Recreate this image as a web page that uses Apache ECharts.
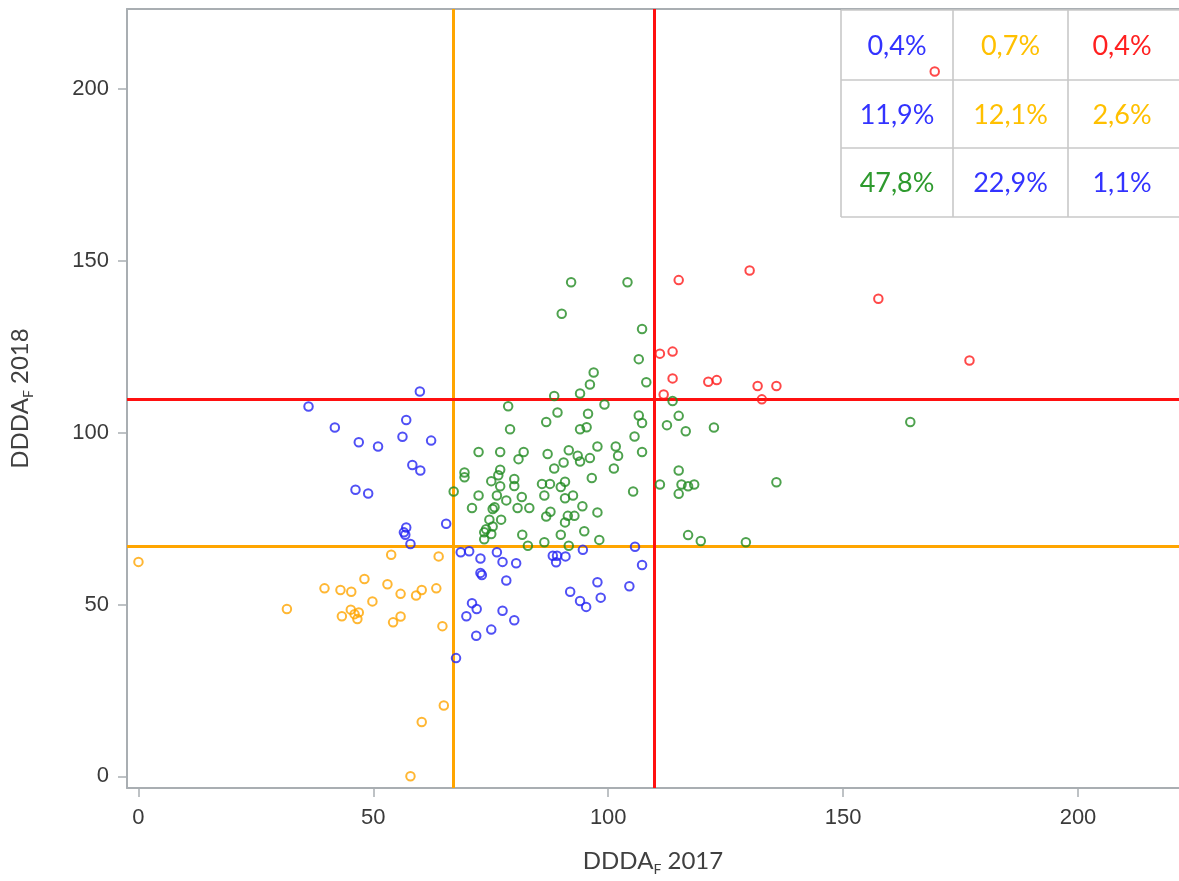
<!DOCTYPE html>
<html>
<head>
<meta charset="utf-8">
<script src="https://cdn.jsdelivr.net/npm/echarts@6/dist/echarts.min.js"></script>
<style>
html,body{margin:0;padding:0;background:#fff;}
#chart{width:1179px;height:881px;}
</style>
</head>
<body>
<div id="chart"></div>
<script>
// ---- data ----
const xTicks = [0, 50, 100, 150, 200];
const yTicks = [0, 50, 100, 150, 200];
const xThresholds = [67, 109.7];
const yThresholds = [67, 109.7];

const greenPoints = [
  [92.1,143.8],[104.1,143.8],[90.1,134.6],[107.2,130.2],[106.5,121.4],[108.1,114.7],
  [96.9,117.5],[96.1,114.0],[94.0,111.4],[88.5,110.7],[99.2,108.2],[78.7,107.7],
  [89.2,105.9],[95.7,105.5],[106.5,105.0],[107.2,102.8],[86.8,103.1],[94.0,101.0],
  [95.4,101.6],[79.1,101.0],[105.6,98.9],[97.7,96.0],[101.6,96.0],[102.1,93.3],
  [91.6,94.9],[107.2,94.4],[72.4,94.4],[77.0,94.4],[82.0,94.4],[80.9,92.3],
  [87.1,93.8],[93.5,93.3],[94.0,91.6],[96.1,92.6],[90.5,91.3],[88.5,89.6],
  [101.2,89.6],[96.5,86.8],[69.4,88.4],[69.4,87.0],[77.0,89.2],[76.6,87.6],
  [75.1,85.9],[77.0,84.4],[80.0,86.5],[80.0,84.5],[85.9,85.1],[87.6,85.1],
  [89.9,84.2],[90.8,85.7],[105.3,82.9],[67.1,82.9],[72.4,81.7],[76.3,81.7],
  [78.3,80.3],[81.6,81.3],[86.4,81.7],[90.8,80.9],[92.5,81.7],[71.0,78.1],
  [75.8,78.3],[75.4,77.8],[80.7,78.1],[83.2,78.1],[87.7,77.0],[86.8,75.6],
  [94.5,78.6],[97.7,76.8],[91.4,75.8],[90.8,73.9],[92.8,75.8],[74.7,74.7],
  [77.2,74.7],[75.4,72.7],[74.0,71.9],[73.6,71.0],[75.1,70.5],[73.6,69.0],
  [81.7,70.3],[89.9,70.3],[94.9,71.3],[98.1,68.8],[82.9,67.1],[86.4,68.1],
  [91.6,67.1],[113.7,109.2],[115.0,104.9],[112.5,102.2],[116.5,100.4],[122.5,101.5],
  [164.3,103.1],[115.0,89.0],[111.0,84.9],[115.6,84.9],[117.0,84.4],[118.3,84.9],
  [115.0,82.2],[135.8,85.6],[117.0,70.2],[119.7,68.5],[129.3,68.1]
];

const bluePoints = [
  [59.9,112.0],[36.2,107.6],[57.0,103.7],[41.8,101.5],[56.2,98.8],[62.3,97.7],
  [46.9,97.2],[51.0,96.0],[58.3,90.6],[60.0,89.0],[46.2,83.4],[48.9,82.3],
  [65.5,73.5],[57.0,72.4],[56.5,71.0],[56.8,70.3],[57.9,67.6],[68.6,65.2],
  [70.4,65.5],[72.8,63.4],[76.3,65.2],[77.5,62.4],[80.4,62.0],[88.2,64.2],
  [89.1,64.2],[88.9,62.3],[90.9,64.0],[94.6,65.9],[105.7,66.8],[107.2,61.5],
  [72.8,59.2],[73.1,58.6],[78.3,57.0],[91.9,53.7],[97.7,56.5],[104.5,55.3],
  [98.4,52.0],[94.0,51.0],[95.3,49.3],[71.0,50.4],[72.0,48.7],[69.8,46.6],
  [77.5,48.2],[80.0,45.4],[75.1,42.7],[71.9,40.9],[67.6,34.4]
];

const orangePoints = [
  [0.0,62.4],[31.6,48.7],[39.6,54.7],[43.0,54.2],[45.3,53.7],[48.1,57.4],
  [49.8,50.9],[43.3,46.6],[45.2,48.5],[46.9,47.7],[46.6,45.8],[46.0,47.2],
  [53.0,55.9],[53.8,64.5],[55.8,53.1],[54.2,44.8],[55.8,46.5],[59.1,52.6],
  [60.3,54.2],[63.4,54.7],[63.9,64.0],[64.7,43.7],[65.0,20.6],[60.3,15.8],
  [57.9,0.0]
];

const redPoints = [
  [169.5,205.1],[130.1,147.2],[115.0,144.4],[157.5,139.0],[176.9,121.0],
  [111.0,123.0],[113.7,123.6],[113.7,115.8],[121.3,114.8],[123.1,115.3],
  [131.8,113.6],[135.8,113.6],[111.8,111.1],[132.7,109.7]
];

const tableRows = [
  ['0,4%', '0,7%', '0,4%'],
  ['11,9%', '12,1%', '2,6%'],
  ['47,8%', '22,9%', '1,1%']
];

// ---- styles ----
const C = {
  blue: '#2424F2', orange: '#FFA500', green: '#228B22', red: '#FF1A1A',
  tBlue: '#3333FF', tYellow: '#FFC000', tRed: '#FF2020', tGreen: '#2E9A2E'
};
const tableColors = [
  [C.tBlue, C.tYellow, C.tRed],
  [C.tBlue, C.tYellow, C.tYellow],
  [C.tGreen, C.tBlue, C.tBlue]
];

const chart = echarts.init(document.getElementById('chart'), null, {renderer: 'canvas'});

function scatter(name, data, color) {
  return {
    name, type: 'scatter', data, z: 5,
    symbol: 'circle', symbolSize: 8.5,
    itemStyle: {color: 'rgba(255,255,255,0)', borderColor: color, borderWidth: 2},
    silent: true
  };
}

// table graphics
const colEdges = [841, 953, 1068, 1182];
const rowEdges = [10, 80, 148, 217];
const graphics = [];
const lineStyle = {stroke: '#C8C8C8', lineWidth: 1.6};
colEdges.forEach(x => graphics.push({type: 'line', z: 1, shape: {x1: x, y1: rowEdges[0], x2: x, y2: rowEdges[3]}, style: lineStyle}));
rowEdges.forEach(y => graphics.push({type: 'line', z: 1, shape: {x1: colEdges[0], y1: y, x2: colEdges[3], y2: y}, style: lineStyle}));
tableRows.forEach((row, r) => {
  row.forEach((txt, c) => {
    graphics.push({
      type: 'text', z: 1,
      x: (colEdges[c] + colEdges[c + 1] - (c === 2 ? 6 : 0)) / 2,
      y: (rowEdges[r] + rowEdges[r + 1]) / 2 + 1,
      style: {text: txt, fill: tableColors[r][c], font: '27px Lato', align: 'center', verticalAlign: 'middle'}
    });
  });
});

const titleRich = {
  a: {fontFamily: 'Lato', fontSize: 24, color: '#404040', lineHeight: 30, verticalAlign: 'middle'},
  s: {fontFamily: 'Lato', fontSize: 14, color: '#404040', lineHeight: 14, verticalAlign: 'bottom'}
};

const option = {
  backgroundColor: '#fff',
  animation: false,
  grid: {left: 125, top: 9, right: 0, bottom: 92, containLabel: false},
  xAxis: [{
    type: 'value', min: -2.44, max: 221.5,
    splitLine: {show: false},
    axisLine: {show: true, onZero: false, lineStyle: {color: '#A9AEB2', width: 2}},
    axisTick: {show: true, length: 9, customValues: xTicks, lineStyle: {color: '#A9AEB2', width: 1.5}},
    axisLabel: {customValues: xTicks, color: '#3A3A3A', fontFamily: 'Liberation Sans', fontSize: 22, margin: 19},
    name: '{a|DDDA}{s|F}{a| 2017}',
    nameLocation: 'middle', nameGap: 58,
    nameTextStyle: {rich: titleRich}
  }, {
    type: 'value', min: -2.44, max: 221.5, position: 'top',
    splitLine: {show: false}, axisTick: {show: false}, axisLabel: {show: false},
    axisLine: {show: true, onZero: false, lineStyle: {color: '#A9AEB2', width: 2}}
  }],
  yAxis: {
    type: 'value', min: -3.4, max: 223.3,
    splitLine: {show: false},
    axisLine: {show: true, onZero: false, lineStyle: {color: '#A9AEB2', width: 2}},
    axisTick: {show: true, length: 9, customValues: yTicks, lineStyle: {color: '#A9AEB2', width: 1.5}},
    axisLabel: {customValues: yTicks, color: '#3A3A3A', fontFamily: 'Liberation Sans', fontSize: 22, margin: 18},
    name: '{a|DDDA}{s|F}{a| 2018}',
    nameLocation: 'middle', nameGap: 92,
    nameTextStyle: {rich: titleRich}
  },
  graphic: graphics,
  series: [
    {
      type: 'scatter', data: [], z: 3, silent: true,
      markLine: {
        silent: true, symbol: 'none', animation: false,
        label: {show: false},
        emphasis: {disabled: true},
        data: [
          {xAxis: xThresholds[0], lineStyle: {color: C.orange, width: 3, type: 'solid'}},
          {yAxis: yThresholds[0], lineStyle: {color: C.orange, width: 3, type: 'solid'}},
          {xAxis: xThresholds[1], lineStyle: {color: '#FF1010', width: 3, type: 'solid'}},
          {yAxis: yThresholds[1], lineStyle: {color: '#FF1010', width: 3, type: 'solid'}}
        ]
      }
    },
    scatter('green', greenPoints, C.green),
    scatter('blue', bluePoints, C.blue),
    scatter('orange', orangePoints, C.orange),
    scatter('red', redPoints, C.red)
  ]
};
chart.setOption(option);
</script>
</body>
</html>
